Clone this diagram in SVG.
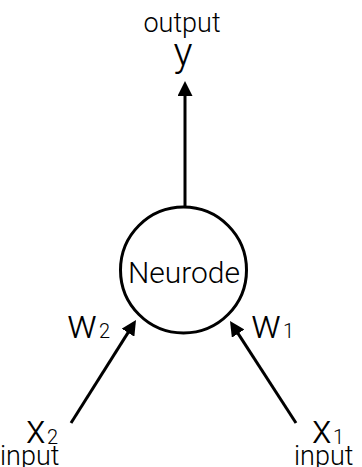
<svg xmlns="http://www.w3.org/2000/svg" width="362" height="467" viewBox="0 0 362 467">
<style>
text{font-family:Roboto,"Liberation Sans",sans-serif;font-weight:300;fill:#000}
.lbl{font-size:27px}
.var{font-size:40px}
.sub{font-size:20px}
.edge{stroke:#000;stroke-width:3;fill:none}
</style>
<defs>
<marker id="ah" viewBox="0 0 10 10" refX="4" refY="5" markerWidth="5" markerHeight="5" orient="auto" markerUnits="strokeWidth">
<path d="M0,0 L10,5 L0,10 z" fill="#000"/>
</marker>
</defs>
<rect width="362" height="467" fill="#fff"/>
<g id="connectors">
<line class="edge" x1="185" y1="207" x2="185" y2="90" marker-end="url(#ah)"/>
<line class="edge" x1="71" y1="423" x2="131.2" y2="327.6" marker-end="url(#ah)"/>
<line class="edge" x1="296" y1="423" x2="234.9" y2="328.6" marker-end="url(#ah)"/>
</g>
<g id="neurode">
<circle cx="183.5" cy="270" r="63" fill="#fff" stroke="#000" stroke-width="3"/>
<text x="184" y="283" text-anchor="middle" font-size="30">Neurode</text>
</g>
<g id="output">
<text class="lbl" x="182" y="32" text-anchor="middle">output</text>
<text class="var" x="183" y="66" text-anchor="middle">y</text>
</g>
<g id="w2">
<text class="var" x="67" y="338">w</text>
<text class="sub" x="99" y="338">2</text>
</g>
<g id="w1">
<text class="var" x="251" y="338">w</text>
<text class="sub" x="283" y="338">1</text>
</g>
<g id="x2">
<text class="var" x="26" y="443">x</text>
<text class="sub" x="47" y="444">2</text>
<text class="lbl" x="0" y="465">input</text>
</g>
<g id="x1">
<text class="var" x="312" y="443">x</text>
<text class="sub" x="333" y="444">1</text>
<text class="lbl" x="294" y="465">input</text>
</g>
</svg>
